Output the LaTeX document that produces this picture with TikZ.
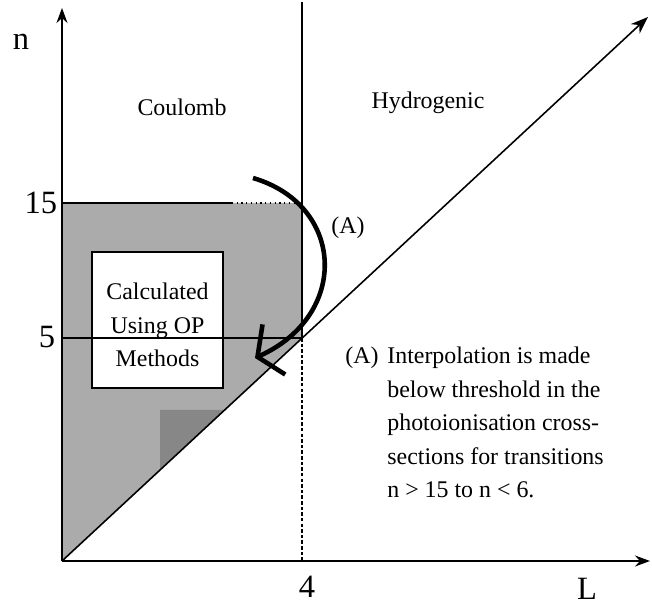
\documentclass[tikz,border=0pt]{standalone}
\usepackage{fontspec}
\setmainfont{Liberation Serif}
\usetikzlibrary{arrows.meta}

\begin{document}
\begin{tikzpicture}[x=0.02cm, y=0.02cm,
  axis/.style={line width=0.9pt, -{Stealth[length=3mm, width=2.2mm]}},
  lbl/.style={font=\fontsize{13.6}{19}\selectfont},
  big/.style={font=\fontsize{18.5}{22}\selectfont}]
\useasboundingbox (0,0) rectangle (652,605);
\coordinate (O) at (62,44);
\coordinate (Ytop) at (62,597);
\coordinate (Xend) at (650,44);
\coordinate (Dend) at (648,588);
\coordinate (Vtop) at (302,603);
\coordinate (K) at (302,267);
\coordinate (Vbot) at (302,44);
\coordinate (Q) at (62,402);
\coordinate (R) at (302,402);
\coordinate (F) at (62,267);
\coordinate (Astart) at (253,427);
\coordinate (Aend) at (255,247);
\fill[black!33] (O) -- (Q) -- (R) -- (K) -- cycle;
\fill[black!47] (160,195) -- (160,135) -- (224.7,195) -- cycle;
\draw[line width=0.7pt] (Q) -- (232,402);
\draw[line width=0.7pt, dotted] (232,402) -- (R);
\draw[axis] (O) -- (Ytop);
\draw[axis] (O) -- (Xend);
\draw[line width=0.9pt, -{Stealth[length=3.5mm, width=2.6mm]}] (O) -- (Dend);
\draw[line width=0.8pt] (Vtop) -- (K);
\draw[line width=0.7pt, dash pattern=on 2pt off 1.2pt] (K) -- (Vbot);
\node[draw, line width=0.9pt, fill=white, minimum width=2.62cm, minimum height=2.72cm]
  (box) at (157.5,285) {};
\node[lbl, align=center] (boxtxt) at (157.5,280) {Calculated\\Using OP\\Methods};
\draw[line width=0.8pt] (F) -- (K);
\draw[line width=2.6pt, -{Straight Barb[length=3.6mm, width=11mm]}]
  (Astart) .. controls (345,400) and (350,290) .. (Aend);
\node[big] (nlab) at (21,563) {n};
\node[big] (t15) at (41,402) {15};
\node[big] (t5) at (47,268) {5};
\node[big] (t4) at (307,18) {4};
\node[big] (tL) at (587,16) {L};
\node[lbl] (coul) at (182,498) {Coulomb};
\node[lbl] (hyd) at (428,502) {Hydrogenic};
\node[lbl] (Aup) at (348,377) {(A)};
\node[lbl, anchor=north west, inner sep=0pt] (Alow) at (345,258) {(A)};
\node[lbl, anchor=north west, align=left, inner sep=0pt] (note) at (387,258)
  {Interpolation is made\\below threshold in the\\photoionisation cross-\\sections for transitions\\n > 15 to n < 6.};
\end{tikzpicture}
\end{document}
